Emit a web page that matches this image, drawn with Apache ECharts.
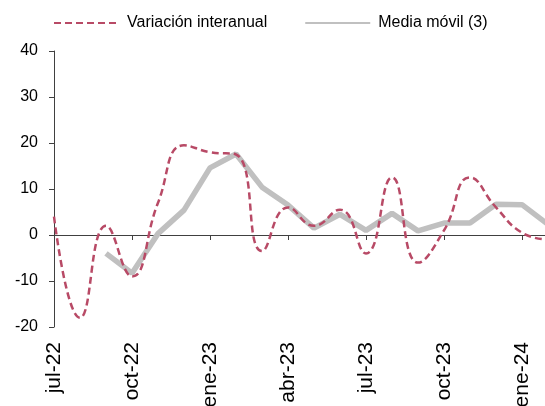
<!DOCTYPE html>
<html>
<head>
<meta charset="utf-8">
<script src="https://cdn.jsdelivr.net/npm/echarts@6/dist/echarts.min.js"></script>
<style>
  html, body { margin: 0; padding: 0; background: #ffffff; }
  #chart { width: 545px; height: 406px; }
</style>
</head>
<body>
<div id="chart"></div>
<script>
const months = [
  "jul-22", "ago-22", "sep-22", "oct-22", "nov-22", "dic-22",
  "ene-23", "feb-23", "mar-23", "abr-23", "may-23", "jun-23",
  "jul-23", "ago-23", "sep-23", "oct-23", "nov-23", "dic-23",
  "ene-24", "feb-24"
];
const variacion = [4, -18, 2, -9, 7, 19.5, 18, 17.5, -3.5, 6, 2, 5.5, -4, 12.5, -6, 1, 12.5, 6, 0.5, -1];
const media = [null, null, -4, -8.3, 0.3, 5.4, 14.6, 17.6, 10.4, 6.5, 1.5, 4.5, 1, 4.7, 0.9, 2.6, 2.6, 6.7, 6.6, 2.3];

const font = "'Liberation Sans', Arial, sans-serif";

const option = {
  animation: false,
  textStyle: { fontFamily: font },
  legend: {
    left: 48,
    top: 10,
    itemWidth: 65,
    itemHeight: 2,
    itemGap: 37,
    itemStyle: { opacity: 0 },
    textStyle: { fontSize: 16, color: "#000", fontFamily: font, padding: [0, 0, 0, 3] },
    data: ["Variación interanual", "Media móvil (3)"]
  },
  grid: {
    left: 54,
    right: -3,
    top: 51,
    bottom: 79,
    containLabel: false,
    outerBoundsMode: "none"
  },
  xAxis: [
    {
      type: "category",
      data: months,
      boundaryGap: false,
      position: "bottom",
      axisLine: { onZero: true, lineStyle: { color: "#404040", width: 1 } },
      axisTick: { show: true, interval: 2, length: 5, lineStyle: { color: "#404040" } },
      axisLabel: { show: false },
      splitLine: { show: false }
    },
    {
      type: "category",
      data: months,
      boundaryGap: false,
      position: "bottom",
      axisLine: { show: false, onZero: false },
      axisTick: { show: false },
      axisLabel: {
        interval: 2,
        rotate: 90,
        margin: 15,
        fontSize: 21,
        color: "#000",
        fontFamily: font
      },
      splitLine: { show: false }
    }
  ],
  yAxis: {
    type: "value",
    min: -20,
    max: 40,
    interval: 10,
    axisLine: { show: true, lineStyle: { color: "#404040", width: 1 } },
    axisTick: { show: true, length: 5, lineStyle: { color: "#404040" } },
    axisLabel: { fontSize: 16, color: "#000", margin: 16, fontFamily: font },
    splitLine: { show: false }
  },
  series: [
    {
      name: "Variación interanual",
      type: "line",
      xAxisIndex: 0,
      data: variacion,
      smooth: 0.5,
      symbol: "none",
      z: 3,
      lineStyle: { color: "#b84a66", width: 2.5, type: [7, 4] },
      itemStyle: { color: "#b84a66" }
    },
    {
      name: "Media móvil (3)",
      type: "line",
      xAxisIndex: 0,
      data: media,
      symbol: "none",
      z: 2,
      lineStyle: { color: "#c0c0c0", width: 5.5 },
      itemStyle: { color: "#c0c0c0" }
    }
  ]
};

const chartObj = echarts.init(document.getElementById("chart"));
chartObj.setOption(option);
window.addEventListener("resize", function() {
  chartObj.resize();
});
</script>
</body>
</html>
